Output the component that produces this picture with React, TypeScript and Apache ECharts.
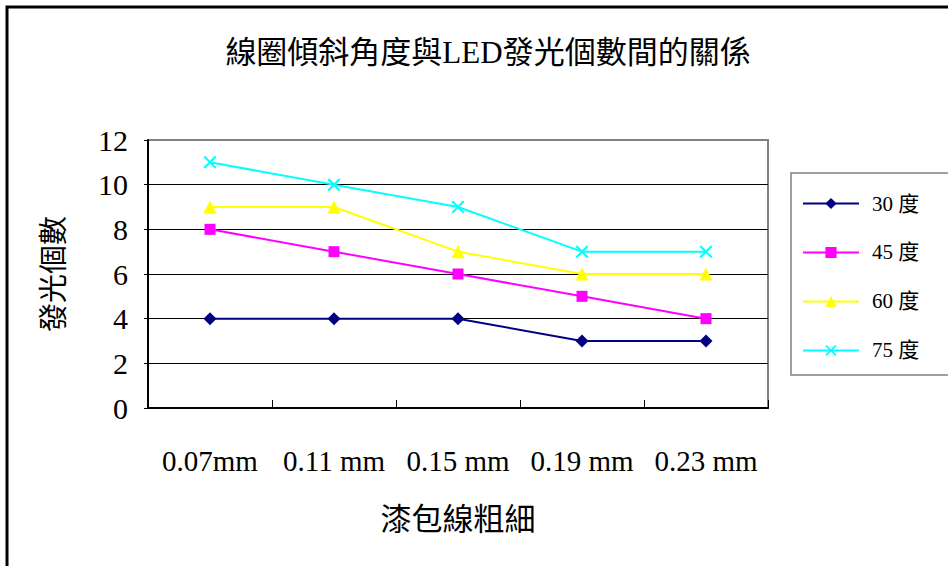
import React, { useEffect, useRef } from "react";
import * as echarts from "echarts";

const categories = ["0.07mm", "0.11 mm", "0.15 mm", "0.19 mm", "0.23 mm"];
const seriesNames = ["30 度", "45 度", "60 度", "75 度"];
const values30 = [4, 4, 4, 3, 3];
const values45 = [8, 7, 6, 5, 4];
const values60 = [9, 9, 7, 6, 6];
const values75 = [11, 10, 9, 7, 7];
const yTicks = [0, 2, 4, 6, 8, 10, 12];

const SERIF = "'Liberation Serif', 'Times New Roman', 'Noto Sans CJK TC', serif";
const CROSS =
  "path://M0,1.4L1.4,0L6,4.6L10.6,0L12,1.4L7.4,6L12,10.6L10.6,12L6,7.4L1.4,12L0,10.6L4.6,6Z";

export default function App() {
  const ref = useRef<HTMLDivElement>(null);

  useEffect(() => {
    if (!ref.current) return;
    const chart = echarts.init(ref.current, undefined, { renderer: "svg" });

    const seriesDefs = [
      { name: seriesNames[0], data: values30, color: "#000080", symbol: "diamond", size: 13 },
      { name: seriesNames[1], data: values45, color: "#FF00FF", symbol: "rect", size: 11 },
      { name: seriesNames[2], data: values60, color: "#FFFF00", symbol: "triangle", size: 13 },
      { name: seriesNames[3], data: values75, color: "#00FFFF", symbol: CROSS, size: 13 },
    ];

    chart.setOption({
      animation: false,
      backgroundColor: "#ffffff",
      title: {
        text: "線圈傾斜角度與LED發光個數間的關係",
        left: 483,
        top: 32,
        textAlign: "center",
        textStyle: {
          fontFamily: SERIF,
          fontSize: 31,
          fontWeight: "normal",
          color: "#000",
        },
      },
      graphic: [
        {
          type: "polyline",
          shape: { points: [[7, 566], [7, 7], [948, 7]] },
          style: { stroke: "#000", lineWidth: 3, fill: "none" },
          silent: true,
        },
      ],
      legend: {
        orient: "vertical",
        left: 791,
        top: 173,
        padding: [20, 50, 14, 11],
        itemGap: 28,
        itemWidth: 56,
        itemHeight: 14,
        borderColor: "#808080",
        borderWidth: 1.5,
        textStyle: {
          fontFamily: SERIF,
          fontSize: 21,
          color: "#000",
          padding: [0, 0, 0, 8],
        },
        data: seriesNames,
      },
      grid: {
        left: 148,
        right: 180,
        top: 140,
        bottom: 158,
        show: true,
        borderColor: "#808080",
        borderWidth: 2,
        backgroundColor: "transparent",
      },
      xAxis: {
        type: "category",
        data: categories,
        boundaryGap: true,
        name: "漆包線粗細",
        nameLocation: "middle",
        nameGap: 96,
        nameTextStyle: { fontFamily: SERIF, fontSize: 31, color: "#000" },
        axisLine: { lineStyle: { color: "#000", width: 2 } },
        axisTick: {
          show: true,
          inside: true,
          length: 8,
          interval: 0,
          lineStyle: { color: "#000" },
        },
        axisLabel: {
          fontFamily: SERIF,
          fontSize: 29,
          color: "#000",
          margin: 38,
          interval: 0,
          hideOverlap: false,
        },
        splitLine: { show: false },
      },
      yAxis: {
        type: "value",
        min: yTicks[0],
        max: yTicks[yTicks.length - 1],
        interval: 2,
        name: "發光個數",
        nameLocation: "middle",
        nameRotate: 90,
        nameGap: 80,
        nameTextStyle: { fontFamily: SERIF, fontSize: 29, color: "#000" },
        axisLine: { show: true, lineStyle: { color: "#000", width: 2 } },
        axisTick: { show: true, inside: false, length: 4, lineStyle: { color: "#000" } },
        axisLabel: {
          fontFamily: SERIF,
          fontSize: 30,
          color: "#000",
          margin: 20,
        },
        splitLine: {
          show: true,
          showMaxLine: false,
          lineStyle: { color: "#000", width: 1 },
        },
      },
      series: seriesDefs.map((s) => ({
        type: "line",
        name: s.name,
        data: s.data,
        symbol: s.symbol,
        symbolSize: s.size,
        showAllSymbol: true,
        color: s.color,
        lineStyle: { color: s.color, width: 2 },
        itemStyle: { color: s.color },
      })),
    });

    return () => chart.dispose();
  }, []);

  return (
    <div
      ref={ref}
      style={{ position: "fixed", left: 0, top: 0, width: 948, height: 566 }}
    />
  );
}
